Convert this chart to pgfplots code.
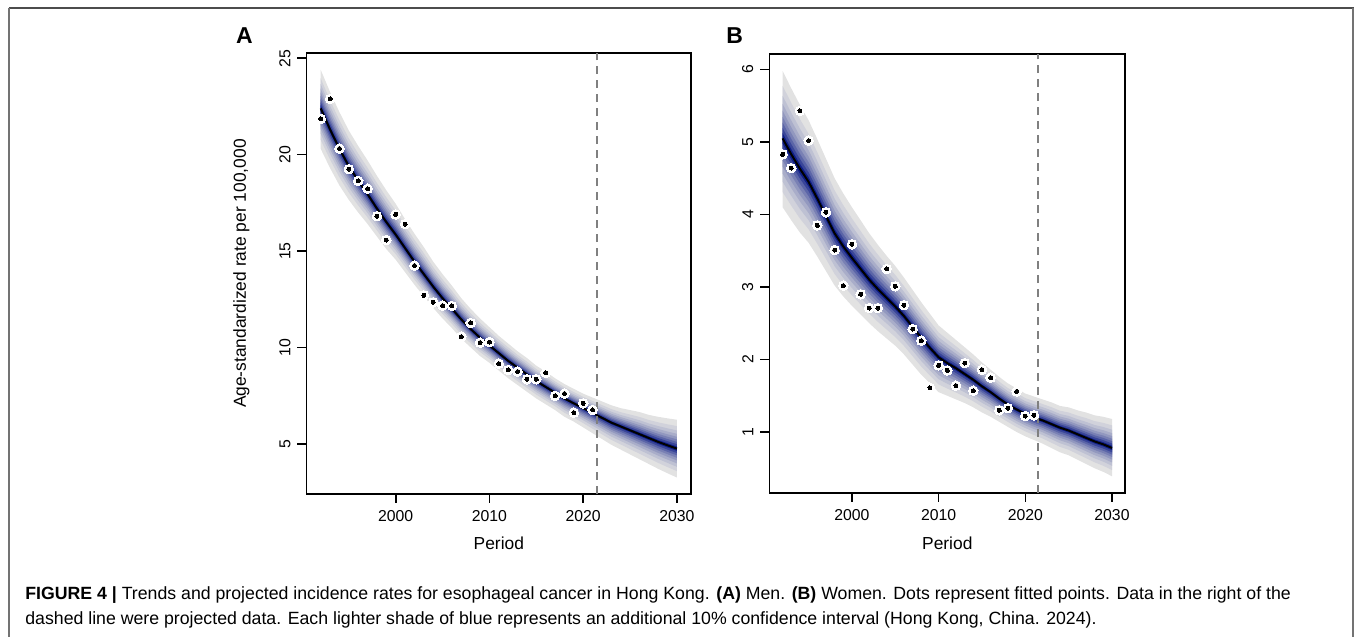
\documentclass[border=0pt]{standalone}
\usepackage{fontspec}
\setmainfont{Liberation Sans}
\usepackage{pgfplots}
\usepackage{pgfplotstable}
\pgfplotsset{compat=1.18}
\usepgfplotslibrary{fillbetween}

\definecolor{fanB}{RGB}{15,30,135}
\definecolor{fanG}{RGB}{226,226,226}
\definecolor{dashgray}{RGB}{128,128,128}
% shade 1 = outermost (90%), shade 9 = innermost (10%)
\colorlet{lv1}{fanB!0!fanG}
\colorlet{lv2}{fanB!8!fanG}
\colorlet{lv3}{fanB!17!fanG}
\colorlet{lv4}{fanB!27!fanG}
\colorlet{lv5}{fanB!38!fanG}
\colorlet{lv6}{fanB!50!fanG}
\colorlet{lv7}{fanB!64!fanG}
\colorlet{lv8}{fanB!80!fanG}
\colorlet{lv9}{fanB!100!fanG}
% width of each interval relative to the outer one
\expandafter\def\csname fr1\endcsname{1.000}
\expandafter\def\csname fr2\endcsname{0.779}
\expandafter\def\csname fr3\endcsname{0.630}
\expandafter\def\csname fr4\endcsname{0.512}
\expandafter\def\csname fr5\endcsname{0.410}
\expandafter\def\csname fr6\endcsname{0.319}
\expandafter\def\csname fr7\endcsname{0.234}
\expandafter\def\csname fr8\endcsname{0.154}
\expandafter\def\csname fr9\endcsname{0.077}

% men: fitted rate and outer interval
\pgfplotstableread{
year fit hi lo
1992 22.40 24.40 20.30
1993 21.30 23.25 19.30
1994 20.30 22.20 18.40
1995 19.40 21.25 17.65
1996 18.65 20.45 17.00
1997 17.95 19.70 16.40
1998 17.20 18.90 15.75
1999 16.50 18.15 15.10
2000 15.85 17.45 14.55
2001 15.15 16.65 13.90
2002 14.45 15.90 13.25
2003 13.80 15.20 12.65
2004 13.15 14.45 12.05
2005 12.55 13.80 11.50
2006 12.00 13.20 11.00
2007 11.45 12.55 10.45
2008 10.95 12.00 10.00
2009 10.50 11.50 9.55
2010 10.10 11.05 9.20
2011 9.70 10.60 8.80
2012 9.30 10.20 8.40
2013 8.95 9.80 8.05
2014 8.60 9.45 7.70
2015 8.25 9.05 7.35
2016 7.95 8.75 7.05
2017 7.65 8.40 6.75
2018 7.35 8.10 6.40
2019 7.10 7.85 6.15
2020 6.85 7.60 5.85
2021 6.60 7.40 5.55
2022 6.35 7.20 5.25
2023 6.10 7.00 4.95
2024 5.90 6.85 4.70
2025 5.70 6.75 4.45
2026 5.50 6.65 4.20
2027 5.30 6.50 3.95
2028 5.10 6.40 3.70
2029 4.92 6.32 3.47
2030 4.75 6.25 3.25
}\bandA

\pgfplotstableread{
year rate
1992 21.86
1993 22.89
1994 20.32
1995 19.25
1996 18.64
1997 18.23
1998 16.81
1999 15.57
2000 16.90
2001 16.40
2002 14.25
2003 12.70
2004 12.34
2005 12.17
2006 12.15
2007 10.56
2008 11.27
2009 10.25
2010 10.28
2011 9.16
2012 8.83
2013 8.75
2014 8.35
2015 8.35
2016 8.68
2017 7.49
2018 7.61
2019 6.62
2020 7.10
2021 6.76
}\ptsA

% women
\pgfplotstableread{
year fit hi lo
1992 5.05 5.98 4.10
1993 4.83 5.74 3.92
1994 4.63 5.51 3.75
1995 4.45 5.30 3.61
1996 4.22 5.04 3.42
1997 3.98 4.77 3.22
1998 3.74 4.50 3.02
1999 3.56 4.29 2.87
2000 3.40 4.10 2.74
2001 3.25 3.92 2.62
2002 3.10 3.74 2.50
2003 2.97 3.58 2.39
2004 2.85 3.43 2.29
2005 2.73 3.29 2.19
2006 2.60 3.13 2.07
2007 2.45 2.96 1.93
2008 2.30 2.79 1.79
2009 2.16 2.63 1.67
2010 2.03 2.47 1.55
2011 1.95 2.37 1.50
2012 1.88 2.27 1.45
2013 1.80 2.17 1.40
2014 1.72 2.07 1.34
2015 1.63 1.96 1.27
2016 1.55 1.86 1.21
2017 1.46 1.76 1.14
2018 1.38 1.67 1.07
2019 1.31 1.60 1.00
2020 1.25 1.53 0.94
2021 1.20 1.49 0.89
2022 1.16 1.45 0.84
2023 1.11 1.41 0.78
2024 1.06 1.36 0.72
2025 1.02 1.34 0.68
2026 0.97 1.30 0.62
2027 0.92 1.27 0.56
2028 0.87 1.23 0.50
2029 0.83 1.21 0.45
2030 0.78 1.18 0.39
}\bandB

\pgfplotstableread{
year rate
1992 4.83
1993 4.64
1994 5.43
1995 5.02
1996 3.85
1997 4.03
1998 3.51
1999 3.02
2000 3.59
2001 2.90
2002 2.71
2003 2.71
2004 3.25
2005 3.01
2006 2.75
2007 2.42
2008 2.26
2009 1.61
2010 1.92
2011 1.85
2012 1.64
2013 1.95
2014 1.57
2015 1.86
2016 1.75
2017 1.30
2018 1.33
2019 1.56
2020 1.22
2021 1.23
}\ptsB

\pgfplotsset{
  panel/.style={
    scale only axis, anchor=south west,
    xmin=1990.48, xmax=2031.52,
    xtick={2000,2010,2020,2030},
    xticklabels={2000,2010,2020,2030},
    xtick pos=bottom, ytick pos=left,
    tick align=outside, major tick length=4.5pt,
    axis line style={line width=0.8pt},
    every tick/.style={line width=0.8pt, black},
    /pgf/number format/assume math mode=true,
    tick label style={font=\fontsize{7.9}{9}\selectfont},
    yticklabel style={rotate=90, anchor=south},
    label style={font=\fontsize{8.7}{10}\selectfont},
  },
  fitline/.style={black, line width=1pt},
  dashline/.style={dashgray, line width=0.9pt, dash pattern=on 4pt off 3pt},
  ring/.style={only marks, white, mark=*, mark size=2.4pt, mark options={fill=white, draw=white, line width=0pt}},
  dot/.style={only marks, black, mark=*, mark size=1pt, mark options={fill=black, draw=black, line width=0pt}},
}

\begin{document}
\begin{tikzpicture}
\path (0,0) rectangle (677.5pt,318.5pt);
\draw[black!70, line width=1pt] (4.5pt,314.5pt) -- (677.5pt,314.5pt);
\draw[black!55, line width=0.7pt] (4.5pt,314.5pt) -- (4.5pt,0pt);
\draw[black!55, line width=0.7pt] (676.9pt,314.5pt) -- (676.9pt,0pt);

\begin{axis}[panel, at={(153.35pt,71.35pt)}, width=192.5pt, height=220.5pt,
  ymin=2.40, ymax=25.26,
  ytick={5,10,15,20,25}, yticklabels={5,10,15,20,25},
  xlabel={Period},
  xlabel style={at={(axis description cs:0.5,-0.111)}, anchor=center},
  ylabel={Age-standardized rate per 100,000},
  ylabel style={at={(axis description cs:-0.169,0.5)}, anchor=center, rotate=0},
]
\pgfplotsinvokeforeach{1,...,9}{
  \addplot[draw=none, forget plot, name path=Au#1] table[x=year, y expr={\thisrow{fit}+\csname fr#1\endcsname*(\thisrow{hi}-\thisrow{fit})}]{\bandA};
  \addplot[draw=none, forget plot, name path=Al#1] table[x=year, y expr={\thisrow{fit}-\csname fr#1\endcsname*(\thisrow{fit}-\thisrow{lo})}]{\bandA};
  \addplot[fill=lv#1, draw=none, forget plot] fill between[of=Au#1 and Al#1];
}
\addplot[fitline] table[x=year, y=fit]{\bandA};
\addplot[dashline] coordinates {(2021.5,2.40) (2021.5,25.26)};
\addplot[ring] table[x=year, y=rate]{\ptsA};
\addplot[dot] table[x=year, y=rate]{\ptsA};
\end{axis}

\begin{axis}[panel, at={(385pt,71.85pt)}, width=178pt, height=219.5pt,
  ymin=0.16, ymax=6.21,
  ytick={1,2,3,4,5,6}, yticklabels={1,2,3,4,5,6},
  xlabel={Period},
  xlabel style={at={(axis description cs:0.5,-0.114)}, anchor=center},
]
\pgfplotsinvokeforeach{1,...,9}{
  \addplot[draw=none, forget plot, name path=Bu#1] table[x=year, y expr={\thisrow{fit}+\csname fr#1\endcsname*(\thisrow{hi}-\thisrow{fit})}]{\bandB};
  \addplot[draw=none, forget plot, name path=Bl#1] table[x=year, y expr={\thisrow{fit}-\csname fr#1\endcsname*(\thisrow{fit}-\thisrow{lo})}]{\bandB};
  \addplot[fill=lv#1, draw=none, forget plot] fill between[of=Bu#1 and Bl#1];
}
\addplot[fitline] table[x=year, y=fit]{\bandB};
\addplot[dashline] coordinates {(2021.5,0.16) (2021.5,6.21)};
\addplot[ring] table[x=year, y=rate]{\ptsB};
\addplot[dot] table[x=year, y=rate]{\ptsB};
\end{axis}

\node[anchor=base west, inner sep=0pt, font=\fontsize{11.5}{12}\selectfont\bfseries] at (118pt,296.5pt) {A};
\node[anchor=base west, inner sep=0pt, font=\fontsize{11.5}{12}\selectfont\bfseries] at (363.3pt,296.5pt) {B};

\node[anchor=base west, inner sep=0pt, font=\fontsize{8.86}{10}\selectfont] at (12.5pt,18.5pt)
  {\textbf{FIGURE 4 |} Trends and projected incidence rates for esophageal cancer in Hong Kong. \textbf{(A)} Men. \textbf{(B)} Women. Dots represent fitted points. Data in the right of the};
\node[anchor=base west, inner sep=0pt, font=\fontsize{8.86}{10}\selectfont] at (12.5pt,6pt)
  {dashed line were projected data. Each lighter shade of blue represents an additional 10\% confidence interval (Hong Kong, China. 2024).};
\end{tikzpicture}
\end{document}
